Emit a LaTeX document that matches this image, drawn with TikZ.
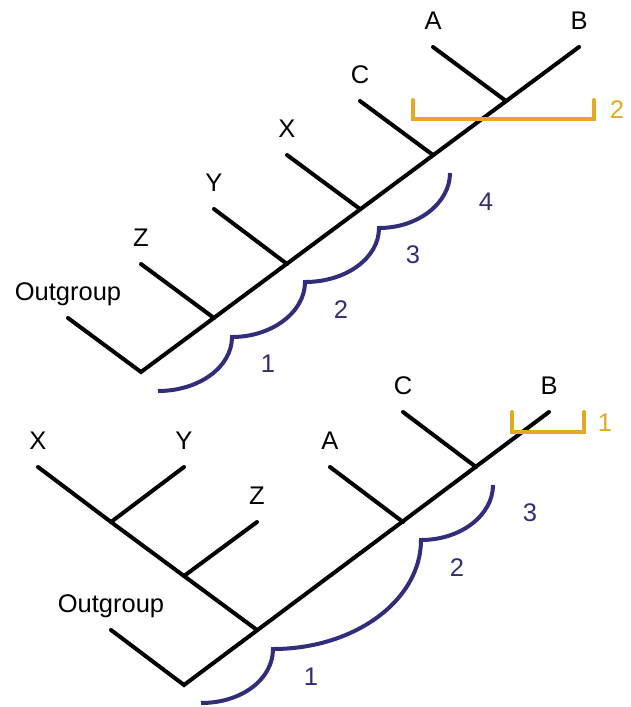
\documentclass[tikz,border=0pt]{standalone}
\usepackage{fontspec}
\setmainfont{Liberation Sans}
\usetikzlibrary{positioning}
\definecolor{clade}{RGB}{49,45,122}
\definecolor{gap}{RGB}{228,168,37}
\tikzset{branch/.style = {line width=4pt, line cap=round, line join=miter},
         hump/.style   = {line width=4pt, clade, line join=miter},
         bracket/.style = {line width=4pt, gap, line cap=round, line join=miter},
         taxon/.style  = {font=\fontsize{25.5}{28}\selectfont, inner sep=0pt, text depth=0pt},
         count/.style  = {font=\fontsize{25.5}{28}\selectfont, inner sep=0pt, clade}}

\begin{document}
\begin{tikzpicture}[x=1pt, y=-1pt]
  \useasboundingbox (0,0) rectangle (630,707);

  % upper tree
  \coordinate (tRoot) at (141,372);
  \coordinate (tn1) at (214,318);
  \coordinate (tn2) at (287,264);
  \coordinate (tn3) at (360,209);
  \coordinate (tn4) at (433,155);
  \coordinate (tn5) at (506,101);
  \coordinate (tOut) at (68,318);
  \coordinate (tZ) at (141,264);
  \coordinate (tY) at (214,209);
  \coordinate (tX) at (287,155);
  \coordinate (tC) at (360,101);
  \coordinate (tA) at (433,47);
  \coordinate (tB) at (579,47);

  \draw[branch] (tOut) -- (tRoot) -- (tB);
  \draw[branch] (tn1) -- (tZ);
  \draw[branch] (tn2) -- (tY);
  \draw[branch] (tn3) -- (tX);
  \draw[branch] (tn4) -- (tC);
  \draw[branch] (tn5) -- (tA);

  \node[taxon, above=17pt of tOut] (lOut) {Outgroup};
  \node[taxon, above=17pt of tZ] (lZ) {Z};
  \node[taxon, above=17pt of tY] (lY) {Y};
  \node[taxon, above=17pt of tX] (lX) {X};
  \node[taxon, above=17pt of tC] (lC) {C};
  \node[taxon, above=17pt of tA] (lA) {A};
  \node[taxon, above=17pt of tB] (lB) {B};

  \draw[bracket] (413,100) -- (413,119) -- (594,119) -- (594,100);
  \node[count, gap] (g2) at (617,110) {2};

  \draw[hump] (158,391) .. controls +(41,0) and +(0,30) .. (232,337)
                        .. controls +(40,0) and +(0,30) .. (305,282)
                        .. controls +(41,0) and +(0,30) .. (379,228)
                        .. controls +(39,0) and +(0,30) .. (450,173);
  \node[count] (c1) at (268,364) {1};
  \node[count] (c2) at (341,310) {2};
  \node[count] (c3) at (413,255) {3};
  \node[count] (c4) at (486,202) {4};

  % lower tree
  \coordinate (bRoot) at (184,685);
  \coordinate (bn1) at (257,630);
  \coordinate (bn3) at (403,522);
  \coordinate (bn4) at (476,467);
  \coordinate (bZn) at (184,576);
  \coordinate (bXYn) at (111,522);
  \coordinate (bOut) at (111,630);
  \coordinate (bX) at (38,467);
  \coordinate (bY) at (184,467);
  \coordinate (bZ) at (257,522);
  \coordinate (bA) at (330,467);
  \coordinate (bC) at (403,412);
  \coordinate (bB) at (549,412);

  \draw[branch] (bOut) -- (bRoot) -- (bB);
  \draw[branch] (bn1) -- (bZn) -- (bXYn) -- (bX);
  \draw[branch] (bXYn) -- (bY);
  \draw[branch] (bZn) -- (bZ);
  \draw[branch] (bn3) -- (bA);
  \draw[branch] (bn4) -- (bC);

  \node[taxon, above=17pt of bOut] (mOut) {Outgroup};
  \node[taxon, above=17pt of bX] (mX) {X};
  \node[taxon, above=17pt of bY] (mY) {Y};
  \node[taxon, above=17pt of bZ] (mZ) {Z};
  \node[taxon, above=17pt of bA] (mA) {A};
  \node[taxon, above=17pt of bC] (mC) {C};
  \node[taxon, above=17pt of bB] (mB) {B};

  \draw[bracket] (512,412) -- (512,432) -- (584,432) -- (584,412);
  \node[count, gap] (g1) at (605,423) {1};

  \draw[hump] (201,703) .. controls +(41,0) and +(0,30) .. (273,649)
                        .. controls +(82,0) and +(0,60) .. (421,540)
                        .. controls +(40,0) and +(0,30) .. (493,485);
  \node[count] (d1) at (311,677) {1};
  \node[count] (d2) at (457,568) {2};
  \node[count] (d3) at (530,513) {3};
\end{tikzpicture}
\end{document}
